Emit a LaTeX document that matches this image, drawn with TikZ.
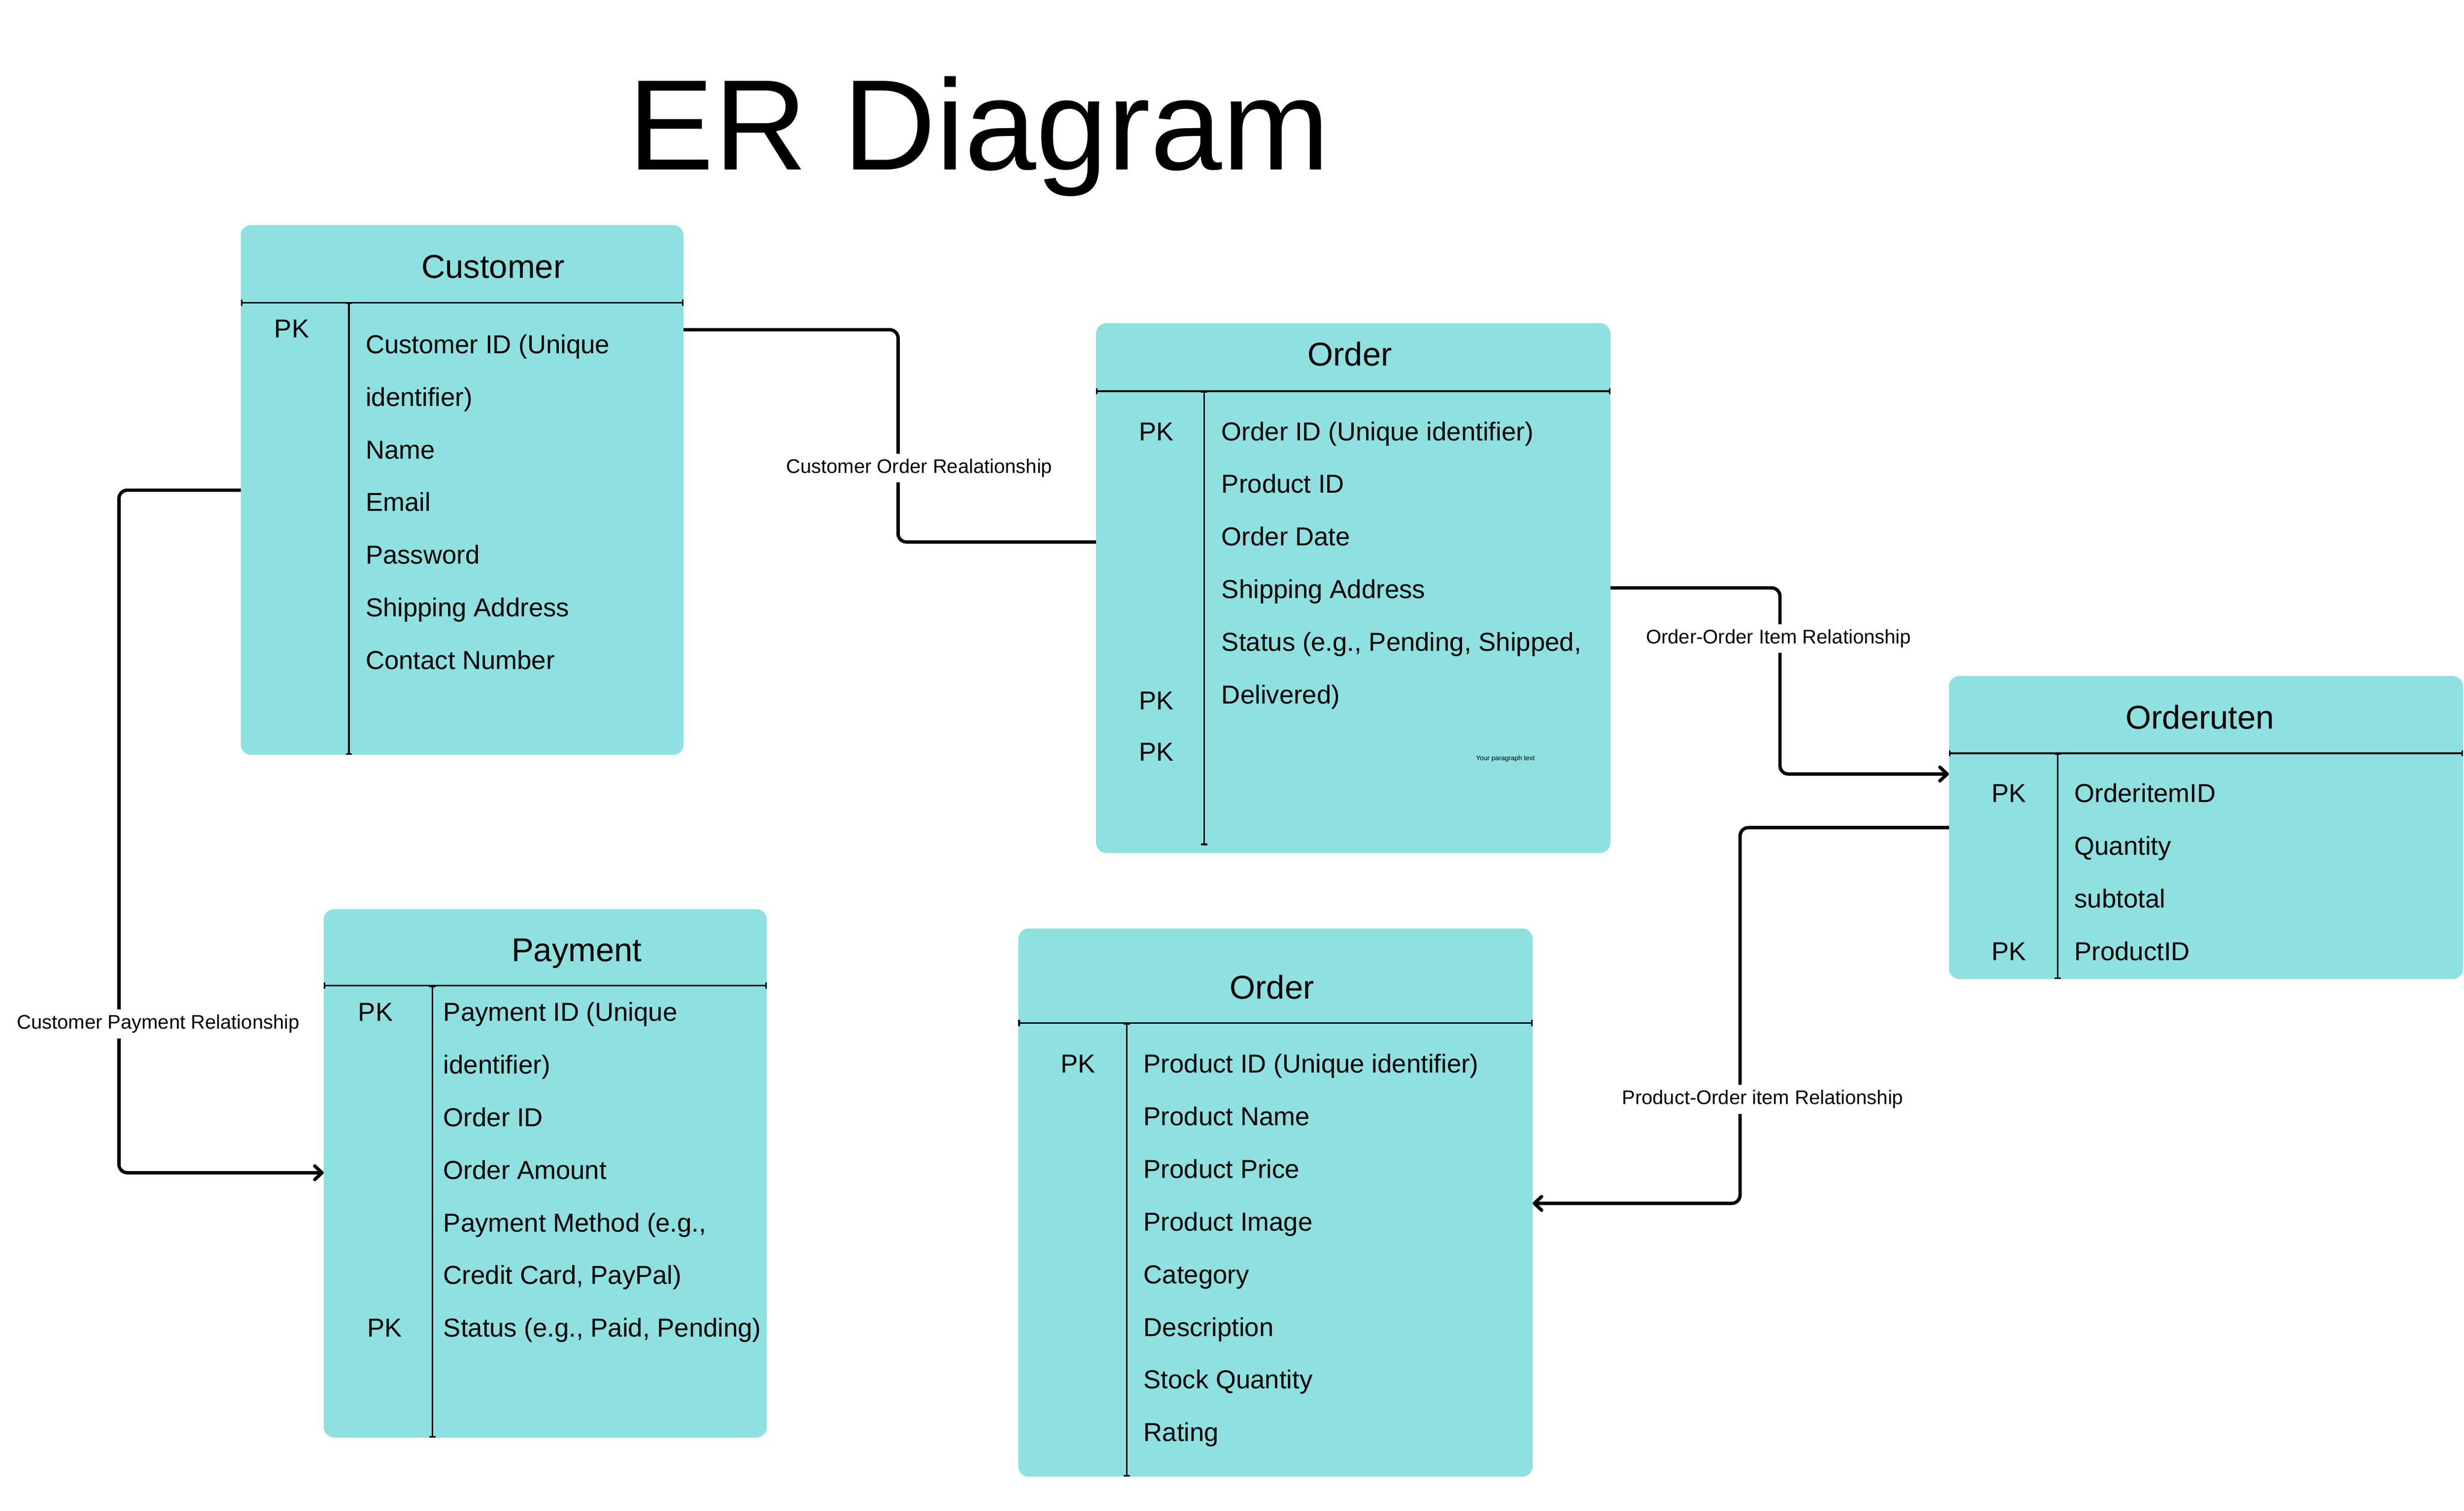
\documentclass[tikz,border=0pt]{standalone}
\usepackage{fontspec}
\setmainfont{Liberation Sans}
\usetikzlibrary{arrows.meta,fit}
\definecolor{entityfill}{RGB}{143,224,224}

\tikzset{every picture/.style={line width=0.75pt}}
\tikzset{
  entity/.style={fill=entityfill, rounded corners=5pt, inner sep=0pt, outer sep=0pt},
  divider/.style={line width=0.75pt, {Bar[width=3pt]}-{Bar[width=3pt]}},
  attr/.style={anchor=base west, inner sep=0.75pt, font=\fontsize{12.4}{14}\selectfont},
  pkey/.style={anchor=base, inner sep=0.75pt, font=\fontsize{12.4}{14}\selectfont},
  boxtitle/.style={anchor=base, inner sep=0.75pt, font=\fontsize{15.75}{18}\selectfont},
  link/.style={line width=1.6pt, rounded corners=4pt},
  tip/.style={-{Straight Barb[round,length=3.5pt,width=6.5pt]}},
  relname/.style={anchor=base, fill=white, inner sep=2.5pt, font=\fontsize{9.4}{11}\selectfont},
}

\begin{document}
\begin{tikzpicture}[x=0.75pt,y=0.75pt,yscale=-1,xscale=1]
%set diagram left start at 0, and has height of 961.7
\useasboundingbox (0,0) rectangle (1568,961.7);

% Text Node
\node[anchor=base, inner sep=0.75pt, font=\fontsize{61.5}{68}\selectfont] (erTitle) at (623,108) {ER Diagram};

%Shape: Rectangle [Customer]
\node[entity, fit={(153.2,143.2) (435,480.5)}] (customer) {};
\draw[divider] (153.2,192.6) -- (435,192.6);
\draw[divider] (222,192.6) -- (222,480.5);
% Text Node
\node[boxtitle] (customerTitle) at (313.7,177) {Customer};
\node[pkey] (customerPk) at (185.7,215) {PK};
\foreach \txt [count=\i] in {Customer ID (Unique, identifier), Name, Email, Password, Shipping Address, Contact Number}
  \node[attr] (customer\i) at (231.2,{225+(\i-1)*33.5}) {\txt};

%Shape: Rectangle [Order]
\node[entity, fit={(697.5,205.7) (1024.8,543)}] (order) {};
\draw[divider] (697.5,249) -- (1024.8,249);
\draw[divider] (766.3,249) -- (766.3,538);
% Text Node
\node[boxtitle] (orderTitle) at (859,232.8) {Order};
\node[pkey] (orderPkA) at (736,280.4) {PK};
\node[pkey] (orderPkB) at (736,451.8) {PK};
\node[pkey] (orderPkC) at (736,484.3) {PK};
\foreach \txt [count=\i] in {Order ID (Unique identifier), Product ID, Order Date, Shipping Address, {Status (e.g., Pending, Shipped,}, Delivered)}
  \node[attr] (order\i) at (775.9,{280.4+(\i-1)*33.5}) {\txt};
\node[inner sep=0.75pt, font=\fontsize{3.2}{4}\selectfont] (orderNote) at (958,483) {Your paragraph text};

%Shape: Rectangle [Orderuten]
\node[entity, fit={(1240.2,430.3) (1567.4,623.2)}] (orderItem) {};
\draw[divider] (1240.2,479.5) -- (1567.4,479.5);
\draw[divider] (1309.4,479.5) -- (1309.4,623.2);
% Text Node
\node[boxtitle] (orderItemTitle) at (1400,464) {Orderuten};
\node[pkey] (orderItemPkA) at (1278.4,510.8) {PK};
\node[pkey] (orderItemPkB) at (1278.4,611.4) {PK};
\foreach \txt [count=\i] in {OrderitemID, Quantity, subtotal, ProductID}
  \node[attr] (orderItem\i) at (1318.6,{510.8+(\i-1)*33.5}) {\txt};

%Shape: Rectangle [Payment]
\node[entity, fit={(206,578.7) (488,915)}] (payment) {};
\draw[divider] (206,627.3) -- (488,627.3);
\draw[divider] (275.2,627.3) -- (275.2,915);
% Text Node
\node[boxtitle] (paymentTitle) at (367,612) {Payment};
\node[pkey] (paymentPkA) at (239,650) {PK};
\node[pkey] (paymentPkB) at (244.8,851) {PK};
\foreach \txt [count=\i] in {Payment ID (Unique, identifier), Order ID, Order Amount, {Payment Method (e.g.,}, {Credit Card, PayPal)}, {Status (e.g., Paid, Pending)}}
  \node[attr] (payment\i) at (280.7,{650+(\i-1)*33.5}) {\txt};

%Shape: Rectangle [Order, products]
\node[entity, fit={(648,591) (975.3,940)}] (product) {};
\draw[divider] (648,651.3) -- (975.3,651.3);
\draw[divider] (717,651.3) -- (717,940);
% Text Node
\node[boxtitle] (productTitle) at (809.4,635.8) {Order};
\node[pkey] (productPk) at (686,683) {PK};
\foreach \txt [count=\i] in {Product ID (Unique identifier), Product Name, Product Price, Product Image, Category, Description, Stock Quantity, Rating}
  \node[attr] (product\i) at (726.3,{683+(\i-1)*33.5}) {\txt};

%Connectors
\draw[link] (customer.east |- 0,209.9) -- (571.5,209.9) -- (571.5,345) -- (order.west |- 0,345);
\draw[link,tip] (order.east |- 0,374.2) -- (1132.7,374.2) -- (1132.7,492.7) -- (orderItem.west |- 0,492.7);
\draw[link,tip] (orderItem.west |- 0,526.8) -- (1107.3,526.8) -- (1107.3,766) -- (product.east |- 0,766);
\draw[link,tip] (customer.west |- 0,312) -- (75.7,312) -- (75.7,746.5) -- (payment.west |- 0,746.5);

% Text Node
\node[relname] (customerOrder) at (585,301.2) {Customer Order Realationship};
\node[relname] (orderOrderItem) at (1131.8,409.7) {Order-Order Item Relationship};
\node[relname] (productOrderItem) at (1121.7,703) {Product-Order item Relationship};
\node[relname] (customerPayment) at (100.7,655) {Customer Payment Relationship};
\end{tikzpicture}
\end{document}
